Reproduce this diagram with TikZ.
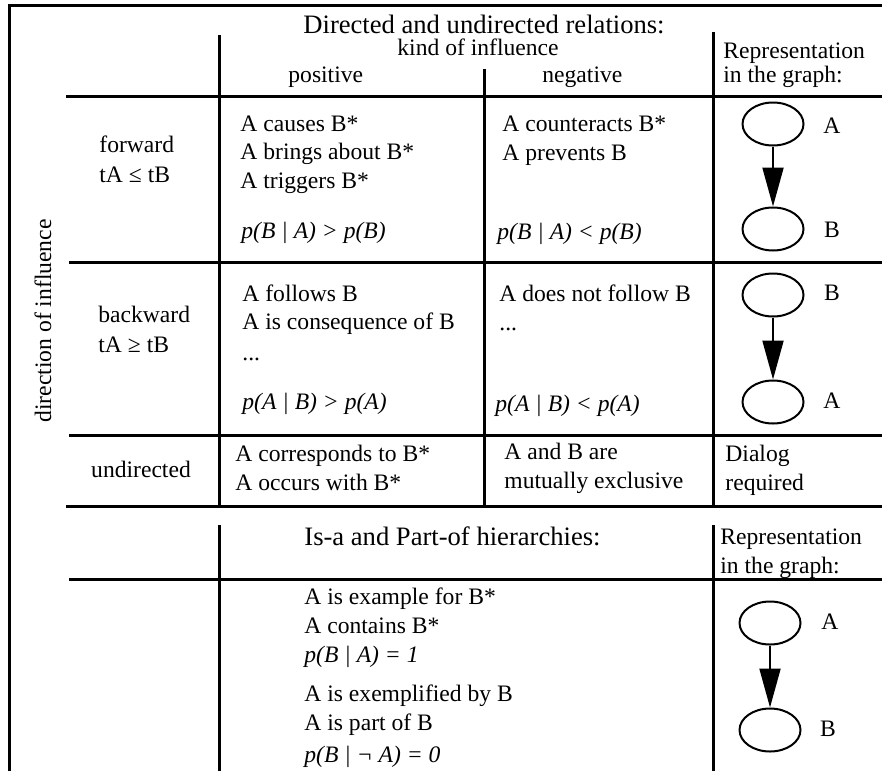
\documentclass[tikz,border=0pt]{standalone}
\usepackage{fontspec}
\setmainfont{Liberation Serif}
\usetikzlibrary{shapes.geometric,arrows.meta}

\begin{document}
\begin{tikzpicture}[x=0.5pt,y=-0.5pt,
    every node/.style={inner sep=0pt,font=\fontsize{11.8}{14.2}\selectfont},
    rule/.style={line width=1.5pt},
    cell/.style={anchor=base west,align=left},
    head/.style={anchor=base west,font=\fontsize{13.3}{16}\selectfont},
    prob/.style={anchor=base west,font=\fontsize{11.8}{14.2}\selectfont\itshape},
    event/.style={ellipse,draw,line width=1pt,minimum width=30.5pt,minimum height=21.5pt},
    link/.style={line width=1pt,-{Triangle[length=19.5pt,width=10.5pt]}}]
  \useasboundingbox (0,0) rectangle (882,771);

  % table rules
  \draw[rule] (9,771) -- (9,5) -- (882,5);
  \draw[rule] (219,35) -- (219,506);
  \draw[rule] (219,525) -- (219,771);
  \draw[rule] (484,69) -- (484,506);
  \draw[rule] (713,32) -- (713,506);
  \draw[rule] (713,525) -- (713,771);
  \draw[rule] (66,96) -- (882,96);
  \draw[rule] (69,262) -- (882,262);
  \draw[rule] (69,435) -- (882,435);
  \draw[rule] (66,506) -- (882,506);
  \draw[rule] (69,579) -- (882,579);

  % header (base of a block = its last line)
  \node[head] (title) at (303,33) {Directed and undirected relations:};
  \node[cell] (kind) at (397,55) {kind of influence};
  \node[cell] (pos) at (288,82) {positive};
  \node[cell] (neg) at (542,82) {negative};
  \node[cell] (repr) at (723,82) {Representation\\[-2.2pt]in the graph:};
  \node[rotate=90] (dir) at (43,321) {direction of influence};

  % forward
  \node[cell] (fwd) at (99,182) {forward\\[0.8pt]tA ≤ tB};
  \node[cell] (pos1) at (240,188) {A causes B*\\A brings about B*\\A triggers B*};
  \node[prob] (pos1p) at (241,238) {p(B | A) > p(B)};
  \node[cell] (neg1) at (502,160) {A counteracts B*\\A prevents B};
  \node[prob] (neg1p) at (497,239) {p(B | A) < p(B)};
  \node[event] (fA) at (773,124) {};
  \node[event] (fB) at (773,229) {};
  \node[anchor=base] (fAl) at (832,133) {A};
  \node[anchor=base] (fBl) at (832,237) {B};
  \draw[link] (fA) -- (fB);

  % backward
  \node[cell] (bwd) at (98,352) {backward\\[0.8pt]tA ≥ tB};
  \node[cell] (pos2) at (242,360) {A follows B\\A is consequence of B\\[1pt]...};
  \node[prob] (pos2p) at (242,409) {p(A | B) > p(A)};
  \node[cell] (neg2) at (499,330) {A does not follow B\\...};
  \node[prob] (neg2p) at (495,411) {p(A | B) < p(A)};
  \node[event] (bB) at (773,295) {};
  \node[event] (bA) at (773,402) {};
  \node[anchor=base] (bBl) at (832,300) {B};
  \node[anchor=base] (bAl) at (832,408) {A};
  \draw[link] (bB) -- (bA);

  % undirected
  \node[anchor=base] (undir) at (141,477) {undirected};
  \node[cell] (pos3) at (235,490) {A corresponds to B*\\A occurs with B*};
  \node[cell] (neg3) at (504,488) {A and B are\\mutually exclusive};
  \node[cell] (dialog) at (725,490) {Dialog\\required};

  % hierarchies
  \node[head] (isa) at (304,545) {Is-a and Part-of hierarchies:};
  \node[cell] (repr2) at (720,573) {Representation\\in the graph:};
  \node[cell] (isa1) at (304,633) {A is example for B*\\A contains B*};
  \node[prob] (isa1p) at (304,662) {p(B | A) = 1};
  \node[cell] (isa2) at (304,730) {A is exemplified by B\\A is part of B};
  \node[prob] (isa2p) at (304,762) {p(B | ¬ A) = 0};
  \node[event] (hA) at (770,623) {};
  \node[event] (hB) at (770,730) {};
  \node[anchor=base] (hAl) at (830,629) {A};
  \node[anchor=base] (hBl) at (828,736) {B};
  \draw[link] (hA) -- (hB);
\end{tikzpicture}
\end{document}
